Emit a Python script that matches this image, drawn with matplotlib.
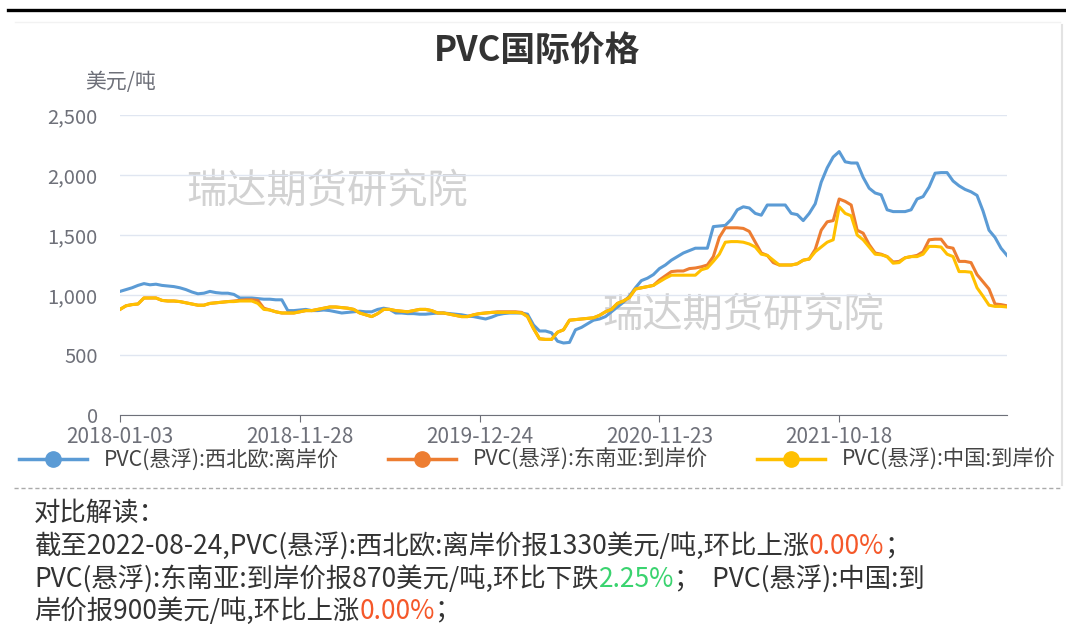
import numpy as np
import matplotlib
matplotlib.use("Agg")
import matplotlib.pyplot as plt
from matplotlib.lines import Line2D
from matplotlib.ticker import FuncFormatter

plt.rcParams['font.family'] = ['Noto Sans CJK SC', 'DejaVu Sans']

# tick labels on the category axis (one label every 30 points)
tick_labels = ["2018-01-03", "2018-11-28", "2019-12-24", "2020-11-23", "2021-10-18"]
tick_step = 30

series_names = ["PVC(悬浮):西北欧:离岸价", "PVC(悬浮):东南亚:到岸价", "PVC(悬浮):中国:到岸价"]

nw_europe = [
    1030, 1045, 1060, 1080, 1095, 1085, 1090, 1080, 1075, 1070,
    1060, 1045, 1025, 1010, 1015, 1030, 1020, 1015, 1015, 1005,
    975, 975, 975, 970, 965, 965, 960, 960, 870, 870,
    875, 880, 870, 870, 875, 870, 860, 850, 855, 860,
    865, 860, 860, 880, 890, 880, 850, 850, 845, 845,
    840, 840, 845, 850, 850, 845, 840, 835, 825, 820,
    810, 800, 815, 835, 845, 850, 850, 850, 840, 750,
    700, 700, 685, 615, 600, 605, 710, 730, 760, 790,
    800, 820, 860, 900, 940, 990, 1060, 1120, 1140, 1170,
    1220, 1250, 1290, 1320, 1350, 1370, 1390, 1390, 1390, 1570,
    1575, 1580, 1630, 1710, 1735, 1725, 1680, 1665, 1750, 1750,
    1750, 1750, 1680, 1670, 1620, 1680, 1760, 1940, 2060, 2150,
    2195, 2110, 2100, 2100, 1980, 1890, 1850, 1835, 1710, 1695,
    1695, 1695, 1710, 1800, 1820, 1900, 2015, 2020, 2020, 1950,
    1910, 1880, 1860, 1830, 1700, 1540, 1480, 1390, 1330,
]

se_asia = [
    880, 910, 920, 925, 975, 975, 975, 955, 950, 950,
    945, 935, 925, 915, 915, 930, 935, 940, 945, 950,
    955, 960, 960, 955, 890, 875, 860, 850, 850, 850,
    860, 870, 870, 880, 890, 900, 900, 895, 890, 880,
    850, 835, 820, 845, 880, 880, 870, 865, 860, 870,
    880, 880, 870, 850, 850, 840, 830, 820, 820, 835,
    845, 850, 855, 860, 860, 860, 860, 855, 820, 720,
    635, 630, 630, 690, 710, 790, 795, 800, 805, 810,
    830, 860, 880, 930, 950, 980, 1050, 1060, 1070, 1080,
    1125, 1160, 1195, 1200, 1200, 1220, 1225, 1235, 1250, 1320,
    1480, 1560, 1560, 1560, 1555, 1530, 1440, 1350, 1330, 1270,
    1250, 1250, 1250, 1260, 1290, 1300, 1380, 1540, 1610, 1620,
    1800, 1780, 1750, 1540, 1515, 1420, 1350, 1340, 1320, 1275,
    1280, 1310, 1320, 1330, 1360, 1460, 1465, 1465, 1400, 1390,
    1280, 1280, 1270, 1170, 1110, 1050, 925, 920, 910,
]

china = [
    880, 910, 920, 925, 975, 975, 975, 955, 950, 950,
    945, 935, 925, 915, 915, 930, 935, 940, 945, 945,
    950, 950, 950, 930, 880, 875, 860, 850, 850, 850,
    860, 870, 870, 880, 890, 900, 900, 895, 890, 880,
    850, 835, 820, 845, 880, 880, 870, 865, 860, 870,
    880, 880, 870, 850, 850, 840, 830, 820, 820, 835,
    845, 850, 855, 855, 855, 855, 855, 850, 820, 720,
    635, 630, 630, 690, 710, 790, 795, 800, 805, 810,
    830, 860, 880, 930, 950, 980, 1050, 1060, 1070, 1080,
    1110, 1140, 1165, 1165, 1165, 1165, 1165, 1210, 1225, 1280,
    1340, 1440, 1445, 1445, 1440, 1425, 1400, 1340, 1330, 1290,
    1250, 1250, 1250, 1260, 1290, 1300, 1360, 1400, 1440, 1460,
    1735, 1680, 1660, 1500, 1460, 1400, 1340, 1335, 1320, 1265,
    1270, 1310, 1320, 1320, 1340, 1405, 1405, 1400, 1340, 1320,
    1195, 1195, 1190, 1060, 990, 915, 905, 905, 900,
]

colors = ["#5b9bd5", "#ed7d31", "#ffc000"]

W, H = 1066, 640
fig = plt.figure(figsize=(W / 100, H / 100), dpi=100)
fig.patch.set_facecolor("white")


def fx(px):
    return px / W


def fy(py):
    return 1 - py / H


ax = fig.add_axes([fx(120), fy(415), fx(1007) - fx(120), fy(115) - fy(415)])

x = np.arange(len(nw_europe))
for vals, c, name in zip([nw_europe, se_asia, china], colors, series_names):
    ax.plot(x, vals, color=c, lw=2.2, label=name, solid_joinstyle="round")

ax.set_xlim(0, len(nw_europe) - 1)
ax.set_ylim(0, 2500)
ax.set_yticks(np.arange(0, 2501, 500))
ax.yaxis.set_major_formatter(FuncFormatter(lambda v, p: f"{int(v):,}"))
ax.set_xticks(np.arange(len(tick_labels)) * tick_step)
ax.set_xticklabels(tick_labels)

ax.grid(axis="y", color="#e0e6f1", lw=1)
ax.set_axisbelow(True)
for s in ["top", "right", "left"]:
    ax.spines[s].set_visible(False)
ax.spines["bottom"].set_color("#6e7079")
ax.tick_params(axis="y", length=0, pad=16, labelsize=14.5, labelcolor="#6e7079")
ax.tick_params(axis="x", length=5, color="#6e7079", pad=3, labelsize=15, labelcolor="#6e7079")

# watermarks
ax.text(fx(327), fy(192), "瑞达期货研究院", transform=fig.transFigure, ha="center", va="center",
        fontsize=29, color="#d2d2d2", zorder=0)
ax.text(fx(743), fy(316), "瑞达期货研究院", transform=fig.transFigure, ha="center", va="center",
        fontsize=29, color="#d2d2d2", zorder=0)

# title and unit
fig.text(fx(537), fy(50), "PVC国际价格", ha="center", va="center", fontsize=25,
         fontweight="bold", color="#333333")
fig.text(fx(121), fy(82), "美元/吨", ha="center", va="center", fontsize=15, color="#6e7079")

# legend
handles = [Line2D([], [], color=c, lw=2.5, marker="o", markersize=11) for c in colors]
fig.legend(handles, series_names, loc="center", bbox_to_anchor=(fx(537), fy(460)), ncol=3,
           frameon=False, fontsize=15.3, handlelength=3.2, handletextpad=0.8,
           columnspacing=2.3, labelcolor="#444444", borderaxespad=0, borderpad=0)

# frame decorations
fig.add_artist(Line2D([fx(8), fx(1066)], [fy(10), fy(10)], color="black", lw=2.4))
fig.add_artist(Line2D([fx(15), fx(1060)], [fy(22), fy(22)], color="#f2f2f2", lw=1))
fig.add_artist(Line2D([fx(1062), fx(1062)], [fy(25), fy(485)], color="#e3e3e3", lw=1.5))
fig.add_artist(Line2D([fx(14), fx(1060)], [fy(488), fy(488)], color="#aaaaaa", lw=1,
                      linestyle=(0, (3, 2))))

# commentary text with coloured numbers
text_color = "#333333"
up_color = "#f5582a"
down_color = "#3ad36f"
lines = [
    [("对比解读：", text_color)],
    [("截至2022-08-24,PVC(悬浮):西北欧:离岸价报1330美元/吨,环比上涨", text_color),
     ("0.00%", up_color), ("；", text_color)],
    [("PVC(悬浮):东南亚:到岸价报870美元/吨,环比下跌", text_color), ("2.25%", down_color),
     ("；  PVC(悬浮):中国:到", text_color)],
    [("岸价报900美元/吨,环比上涨", text_color), ("0.00%", up_color), ("；", text_color)],
]
line_y = [513, 546, 579, 611]
for parts, py in zip(lines, line_y):
    prev = None
    for s, c in parts:
        if prev is None:
            prev = fig.text(fx(34), fy(py), s, ha="left", va="center", fontsize=19, color=c)
        else:
            prev = ax.annotate(s, xy=(1, 0), xycoords=prev, ha="left", va="bottom",
                               fontsize=19, color=c, annotation_clip=False)

fig.savefig("out.png", dpi=100, facecolor="white")
